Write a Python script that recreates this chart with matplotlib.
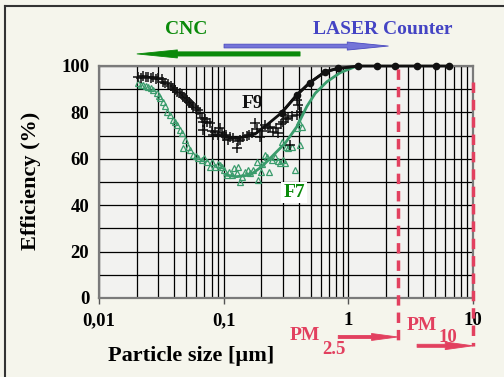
import numpy as np
import matplotlib
matplotlib.use("Agg")
import matplotlib.pyplot as plt
from matplotlib.lines import Line2D

plt.rcParams['font.family'] = ['Liberation Serif', 'DejaVu Serif']
plt.rcParams['font.weight'] = 'bold'
plt.rcParams['axes.labelweight'] = 'bold'

# F9 measurements (crosses)
f9_size = [0.0207, 0.0217, 0.0227, 0.0238, 0.0249, 0.0261, 0.0273, 0.0287, 0.0299, 0.0319,
           0.0326, 0.0339, 0.036, 0.0378, 0.0395, 0.0407, 0.042, 0.0447, 0.0464, 0.0475,
           0.049, 0.0506, 0.0523, 0.0538, 0.0558, 0.0571, 0.060, 0.0627, 0.0647, 0.0665,
           0.0687, 0.071, 0.0732, 0.0778, 0.0687, 0.080, 0.0827, 0.0853, 0.0907, 0.0935,
           0.097, 0.0995, 0.1045, 0.109, 0.1125, 0.1196, 0.127, 0.1306, 0.1355, 0.143,
           0.153, 0.16, 0.168, 0.179, 0.185, 0.196, 0.203, 0.215, 0.227, 0.236,
           0.2506, 0.2634, 0.2747, 0.289, 0.3015, 0.317, 0.3306, 0.341, 0.354, 0.386,
           0.398, 0.386, 0.418]
f9_eff = [95.4, 94.8, 95.8, 95.3, 95.4, 94.8, 95.1, 94.4, 94.7, 94.3,
          93.1, 92.8, 92.2, 91.4, 90.4, 89.7, 88.9, 88.2, 87.5, 86.8,
          86.2, 85.3, 84.5, 83.9, 83.2, 82.5, 81.9, 81.0, 79.6, 77.6,
          76.0, 77.2, 76.0, 75.3, 72.4, 72.0, 70.3, 71.6, 70.3, 73.1,
          71.1, 69.8, 70.3, 68.1, 69.4, 68.8, 64.5, 67.7, 68.1, 69.4,
          69.8, 70.3, 71.0, 75.3, 72.8, 69.5, 72.0, 74.6, 73.3, 73.8,
          71.7, 73.3, 71.0, 75.0, 76.0, 77.2, 77.5, 65.9, 78.4, 78.9,
          83.2, 85.3, 80.2]

# F7 measurements (triangles)
f7_size = [0.0207, 0.0217, 0.0227, 0.0238, 0.0249, 0.0261, 0.0273, 0.029, 0.0302, 0.0309,
           0.0328, 0.0339, 0.0349, 0.0371, 0.0395, 0.0407, 0.042, 0.0447, 0.0461, 0.049,
           0.0475, 0.0521, 0.0538, 0.0571, 0.060, 0.0627, 0.0667, 0.0696, 0.0732, 0.0778,
           0.0808, 0.0853, 0.0902, 0.0935, 0.0966, 0.1007, 0.106, 0.1105, 0.116, 0.121,
           0.127, 0.1312, 0.1355, 0.1397, 0.1486, 0.157, 0.163, 0.173, 0.1845, 0.190,
           0.1985, 0.203, 0.215, 0.222, 0.233, 0.2445, 0.258, 0.2733, 0.284, 0.2926,
           0.3015, 0.311, 0.317, 0.3306, 0.352, 0.374, 0.386, 0.399, 0.41, 0.424]
f7_eff = [92.5, 91.8, 91.8, 91.4, 91.1, 90.5, 89.7, 88.2, 87.1, 86.1,
          84.6, 82.8, 80.3, 78.9, 76.7, 75.9, 74.6, 72.4, 71.0, 68.1,
          64.5, 65.2, 63.8, 61.6, 61.2, 60.2, 59.5, 60.3, 58.8, 56.6,
          58.6, 56.6, 57.8, 57.3, 56.6, 55.2, 53.0, 54.3, 53.0, 56.0,
          53.8, 56.6, 50.1, 52.3, 54.3, 55.2, 53.8, 55.2, 58.8, 50.9,
          54.4, 57.8, 61.6, 60.9, 54.4, 59.5, 60.9, 59.1, 58.1, 67.4,
          59.5, 58.1, 65.1, 64.5, 65.2, 55.2, 73.1, 75.9, 65.9, 73.8]

# fitted curves
f9_fit_size = [0.088, 0.12, 0.144, 0.179, 0.222, 0.292, 0.386, 0.49, 0.65, 0.83, 1.2]
f9_fit_eff = [70.3, 68.8, 69.3, 70.7, 74.6, 79.9, 87.5, 92.8, 97.5, 99.0, 100.0]
f9_dot_size = [0.292, 0.386, 0.49, 0.65, 0.83, 1.2, 1.7, 2.38, 3.56, 5.07, 6.44]
f9_dot_eff = [79.9, 87.5, 92.8, 97.5, 99.0, 100, 100, 100, 100, 100, 100]

f7_fit_size = [0.1026, 0.127, 0.163, 0.202, 0.243, 0.311, 0.386, 0.464, 0.542, 0.672, 0.859, 1.17]
f7_fit_eff = [53.0, 52.3, 53.0, 56.6, 60.9, 66.7, 73.8, 82.5, 88.2, 93.2, 97.1, 100.0]

xticks = [0.01, 0.1, 1, 10]
xlabels = ["0,01", "0,1", "1", "10"]
yticks = [0, 20, 40, 60, 80, 100]

pm25 = 2.5
pm10 = 10.

black = "#111111"
teal = "#3a9c6c"
green = "#0a8a0a"
blue = "#4444c4"
pink = "#e2405f"

W, H = 504, 377
fig = plt.figure(figsize=(W/100, H/100), dpi=100, facecolor="#f5f5ec")
ax = fig.add_axes([99/W, 1 - 298/H, 374/W, 232/H], facecolor="#f2f2f0")

ax.set_xscale("log")
ax.set_xlim(0.01, 10)
ax.set_ylim(0, 100)

ax.set_xticks(xticks, xlabels)
ax.set_yticks(yticks)
ax.set_yticks(np.arange(10, 100, 20), minor=True)
ax.grid(True, which="both", color="black", lw=0.9)
ax.set_axisbelow(True)
ax.tick_params(axis="x", which="major", length=4, width=1, color="#555555", pad=6, labelsize=13.5)
ax.tick_params(axis="x", which="minor", length=0)
ax.tick_params(axis="y", which="both", length=0, pad=7, labelsize=13.5)
for s in ax.spines.values():
	s.set_color("#7a7a7a")
	s.set_linewidth(1.6)

ax.set_xlabel("Particle size [µm]", fontsize=16, va="center")
ax.xaxis.set_label_coords((191 - 99)/374, (298 - 356)/232)
ax.set_ylabel("Efficiency (%)", fontsize=16, va="center")
ax.yaxis.set_label_coords((31 - 99)/374, (298 - 181)/232)

# data
ax.plot(f7_size, f7_eff, ls="none", marker="^", ms=5, mfc="none", mec=teal, mew=0.9)
ax.plot(f9_size, f9_eff, ls="none", marker="+", ms=7, mec=black, mew=1.1)
ax.plot(f7_fit_size, f7_fit_eff, color=teal, lw=2)
ax.plot(f9_fit_size, f9_fit_eff, color=black, lw=2)
ax.plot(f9_dot_size, f9_dot_eff, color=black, lw=2, marker="o", ms=4.5, clip_on=False, zorder=5)

ax.text(0.169, 84, "F9", fontsize=14, color=black, ha="center", va="center")
ax.text(0.367, 45.5, "F7", fontsize=14, color=green, ha="center", va="center",
	bbox=dict(facecolor="white", edgecolor="none", pad=1.5))


def arrow(x0, x1, y, fc, ec, hl, hw, tw):
	ax.annotate("", xy=(x1, y), xytext=(x0, y), annotation_clip=False,
		arrowprops=dict(arrowstyle=f"simple,head_length={hl},head_width={hw},tail_width={tw}",
			fc=fc, ec=ec, lw=0.6, mutation_scale=10, shrinkA=0, shrinkB=0))


# PM limits
ax.plot([pm25, pm25], [98.5, -18], color=pink, lw=2.5, ls=(0, (3, 2)), clip_on=False, zorder=6)
ax.plot([pm10, pm10], [93, -20.5], color=pink, lw=2.5, ls=(0, (3, 2)), clip_on=False, zorder=6)
arrow(0.83, pm25, -16.8, pink, pink, 1.9, 0.5, 0.22)
arrow(3.56, pm10, -20.6, pink, pink, 2.0, 0.55, 0.22)

fig.text(305/W, 1 - 335/H, "PM", fontsize=14, color=pink, ha="center", va="center")
fig.text(334/W, 1 - 350/H, "2.5", fontsize=13.5, color=pink, ha="center", va="center")
fig.text(422/W, 1 - 325/H, "PM", fontsize=14, color=pink, ha="center", va="center")
fig.text(448/W, 1 - 337/H, "10", fontsize=13.5, color=pink, ha="center", va="center")

# instrument ranges
fig.text(186/W, 1 - 30/H, "CNC", fontsize=14, color=green, ha="center", va="center")
fig.text(383/W, 1 - 30/H, "LASER Counter", fontsize=14, color=blue, ha="center", va="center")
arrow(0.41, 0.0202, 105.2, green, green, 2.9, 0.58, 0.3)
arrow(0.1007, 2.09, 108.6, "#7474d8", "#4a4ac0", 2.95, 0.58, 0.27)

# frame of the picture
fig.add_artist(Line2D([5/W, 5/W], [0, 1 - 6/H], color="#333333", lw=1.5))
fig.add_artist(Line2D([5/W, 1], [1 - 6/H, 1 - 6/H], color="#333333", lw=1.5))

fig.savefig("out.png", dpi=100, facecolor=fig.get_facecolor())
